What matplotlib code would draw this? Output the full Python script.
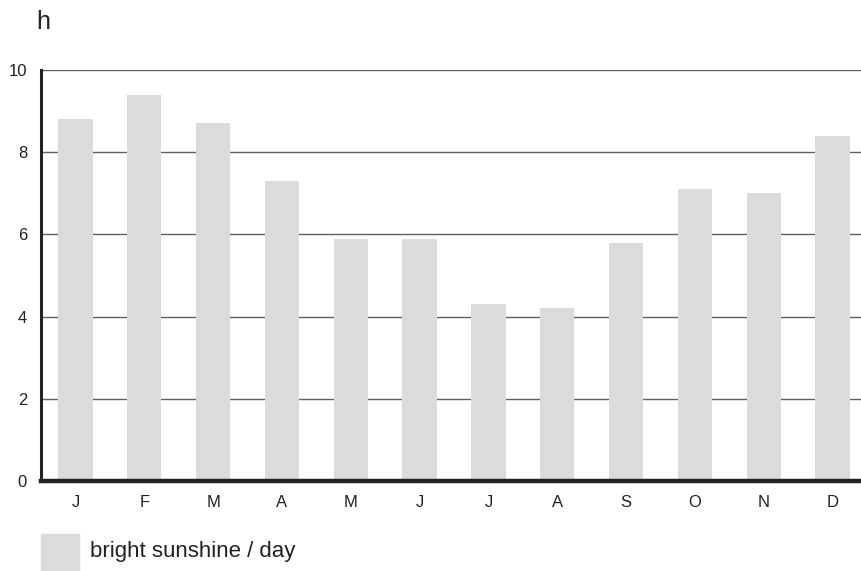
import matplotlib
matplotlib.use("Agg")
import matplotlib.pyplot as plt
from matplotlib.patches import Rectangle

months = ["J", "F", "M", "A", "M", "J", "J", "A", "S", "O", "N", "D"]
sunshine = [8.8, 9.4, 8.7, 7.3, 5.9, 5.9, 4.3, 4.2, 5.8, 7.1, 7.0, 8.4]
yticks = [0, 2, 4, 6, 8, 10]
unit_label = "h"
legend_label = "bright sunshine / day"

bar_color = "#dcdbda"
plt.rcParams["font.family"] = ["Liberation Sans", "DejaVu Sans"]

fig = plt.figure(figsize=(8.62, 5.71), dpi=100)
ax = fig.add_axes([41/862, 1 - 481/571, (867-41)/862, (481-70)/571])

x = list(range(len(months)))
ax.bar(x, sunshine, width=0.50, color=bar_color, zorder=2)
ax.set_xlim(-0.5, len(months) - 0.5)
ax.set_ylim(0, 10)
ax.set_yticks(yticks)
ax.set_xticks(x)
ax.set_xticklabels(months)
ax.tick_params(axis="both", length=0, labelsize=12, colors="#222222")
ax.tick_params(axis="y", pad=10)
ax.tick_params(axis="x", pad=10)
for t in yticks[1:]:
    ax.axhline(t, color="#606060", lw=1.0, zorder=1)
for s in ["top", "right"]:
    ax.spines[s].set_visible(False)
ax.spines["left"].set_linewidth(2.2)
ax.spines["left"].set_color("#222222")
ax.spines["bottom"].set_linewidth(3.2)
ax.spines["bottom"].set_color("#222222")
ax.spines["bottom"].set_zorder(3)

fig.text(36/862, 1 - 29/571, unit_label, fontsize=18, color="#222222")

fig.patches.append(Rectangle((41/862, 0), 38/862, 37/571,
                             transform=fig.transFigure, color=bar_color, figure=fig))
fig.text(90/862, 1 - 552/571, legend_label, fontsize=16, color="#222222", va="center")

fig.savefig("out.png", dpi=100)
